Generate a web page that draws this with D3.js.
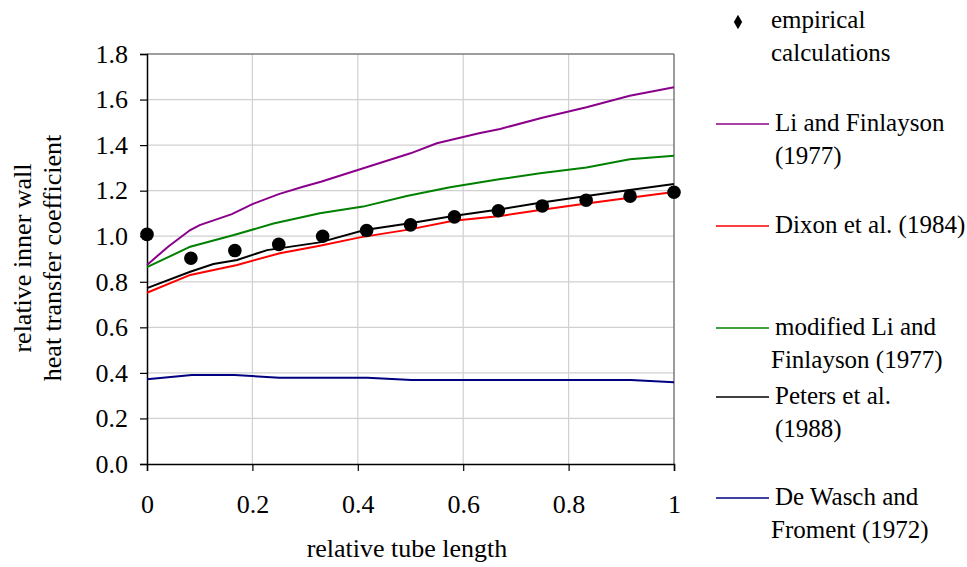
<!DOCTYPE html>
<html>
<head>
<meta charset="utf-8">
<script src="https://cdn.jsdelivr.net/npm/d3@7"></script>
<style>
  body { margin: 0; background: #fff; }
  text { font-family: "Liberation Serif", "Times New Roman", serif; fill: #000; }
</style>
</head>
<body>
<svg id="chart" width="967" height="567"></svg>
<script>
// empirical calculations (dots)
var dotX = [0, 0.0833, 0.1667, 0.25, 0.3333, 0.4167, 0.5, 0.5833, 0.6667, 0.75, 0.8333, 0.9167, 1];
var dotY = [1.008, 0.903, 0.937, 0.964, 1.0, 1.025, 1.05, 1.085, 1.112, 1.133, 1.158, 1.176, 1.193];

// model curves, each with its own vertices
var liX = [0, 0.04, 0.082, 0.10, 0.161, 0.20, 0.25, 0.296, 0.33, 0.40, 0.50, 0.55, 0.59, 0.63, 0.67, 0.75, 0.834, 0.916, 1];
var liY = [0.874, 0.954, 1.027, 1.049, 1.097, 1.141, 1.185, 1.217, 1.239, 1.291, 1.364, 1.408, 1.43, 1.452, 1.471, 1.52, 1.566, 1.617, 1.654];

var dixonX = [0, 0.082, 0.171, 0.252, 0.328, 0.404, 0.499, 0.581, 0.671, 0.746, 0.834, 0.916, 1];
var dixonY = [0.752, 0.830, 0.874, 0.925, 0.958, 0.995, 1.03, 1.068, 1.089, 1.115, 1.144, 1.169, 1.194];

var modLiX = [0, 0.082, 0.165, 0.24, 0.328, 0.41, 0.493, 0.575, 0.671, 0.746, 0.834, 0.916, 1];
var modLiY = [0.864, 0.954, 1.005, 1.056, 1.101, 1.13, 1.177, 1.215, 1.251, 1.276, 1.302, 1.338, 1.353];

var petersX = [0, 0.082, 0.126, 0.171, 0.228, 0.328, 0.413, 0.499, 0.581, 0.671, 0.746, 0.834, 0.916, 1];
var petersY = [0.772, 0.844, 0.878, 0.896, 0.939, 0.973, 1.027, 1.057, 1.089, 1.118, 1.147, 1.177, 1.203, 1.229];

var deWaschX = [0, 0.085, 0.166, 0.251, 0.418, 0.502, 0.918, 1];
var deWaschY = [0.372, 0.391, 0.391, 0.379, 0.379, 0.369, 0.369, 0.359];

var xTicks = [0, 0.2, 0.4, 0.6, 0.8, 1];
var yTicks = [0, 0.2, 0.4, 0.6, 0.8, 1.0, 1.2, 1.4, 1.6, 1.8];

var series = [
  { name: ['Li and Finlayson', '(1977)'], xs: liX, ys: liY, color: '#8b008b' },
  { name: ['Dixon et al. (1984)'], xs: dixonX, ys: dixonY, color: '#ff0000' },
  { name: ['modified Li and', 'Finlayson (1977)'], xs: modLiX, ys: modLiY, color: '#008000' },
  { name: ['Peters et al.', '(1988)'], xs: petersX, ys: petersY, color: '#000000' },
  { name: ['De Wasch and', 'Froment (1972)'], xs: deWaschX, ys: deWaschY, color: '#000080' }
];

var margin = { top: 54, left: 147 },
    width = 527,
    height = 410;

var svg = d3.select('#chart');
var g = svg.append('g').attr('transform', 'translate(' + margin.left + ',' + margin.top + ')');

var x = d3.scaleLinear().domain([0, 1]).range([0, width]);
var y = d3.scaleLinear().domain([0, 1.8]).range([height, 0]);

// gridlines
g.append('g').selectAll('line.vgrid')
  .data(xTicks.slice(1))
  .enter().append('line')
    .attr('x1', function(d) { return x(d); }).attr('x2', function(d) { return x(d); })
    .attr('y1', 0).attr('y2', height)
    .attr('stroke', '#d0d0d0').attr('stroke-width', 1.2);

g.append('g').selectAll('line.hgrid')
  .data(yTicks.slice(1))
  .enter().append('line')
    .attr('x1', 0).attr('x2', width)
    .attr('y1', function(d) { return y(d); }).attr('y2', function(d) { return y(d); })
    .attr('stroke', '#d0d0d0').attr('stroke-width', 1.2);

// plot frame (top, right)
g.append('path')
  .attr('d', 'M0,0H' + width + 'V' + height)
  .attr('fill', 'none').attr('stroke', '#555').attr('stroke-width', 1);

// axes
var xAxis = g.append('g')
  .attr('transform', 'translate(0,' + height + ')')
  .call(d3.axisBottom(x).tickValues(xTicks).tickSize(7).tickPadding(24)
    .tickFormat(function(d) { return d === 0 || d === 1 ? d3.format('d')(d) : d3.format('.1f')(d); }));
var yAxis = g.append('g')
  .call(d3.axisLeft(y).tickValues(yTicks).tickSize(7).tickPadding(12).tickFormat(d3.format('.1f')));

[xAxis, yAxis].forEach(function(a) {
  a.select('.domain').attr('stroke', '#000').attr('stroke-width', 1.5);
  a.selectAll('.tick line').attr('stroke', '#000').attr('stroke-width', 1.2);
  a.selectAll('.tick text').style('font-family', '"Liberation Serif", serif').style('font-size', '26px').attr('fill', '#000');
});

// lines
var line = d3.line()
  .x(function(d) { return x(d[0]); })
  .y(function(d) { return y(d[1]); });

series.forEach(function(s) {
  g.append('path')
    .datum(d3.zip(s.xs, s.ys))
    .attr('d', line)
    .attr('fill', 'none')
    .attr('stroke', s.color)
    .attr('stroke-width', 2);
});

// dots
g.append('g').selectAll('circle')
  .data(d3.zip(dotX, dotY))
  .enter().append('circle')
    .attr('cx', function(d) { return x(d[0]); })
    .attr('cy', function(d) { return y(d[1]); })
    .attr('r', 6.8)
    .attr('fill', '#000');

// axis titles
svg.append('text')
  .attr('x', 407).attr('y', 557)
  .attr('text-anchor', 'middle')
  .style('font-size', '26px')
  .text('relative tube length');

var yt = svg.append('text')
  .attr('transform', 'translate(31,258) rotate(-90)')
  .attr('text-anchor', 'middle')
  .style('font-size', '26px');
yt.append('tspan').attr('x', 0).attr('y', 0).text('relative inner wall');
yt.append('tspan').attr('x', 0).attr('y', 30).text('heat transfer coefficient');

// legend
var legend = svg.append('g');
legend.append('path')
  .attr('d', d3.symbol().type(d3.symbolDiamond).size(60))
  .attr('transform', 'translate(738,22)')
  .attr('fill', '#000');
legend.append('text').attr('x', 771).attr('y', 28).style('font-size', '25px').text('empirical');
legend.append('text').attr('x', 771).attr('y', 61).style('font-size', '25px').text('calculations');

var legendY = [124, 226, 328, 397, 498];
series.forEach(function(s, i) {
  var ly = legendY[i];
  legend.append('line')
    .attr('x1', 716).attr('x2', 769)
    .attr('y1', ly).attr('y2', ly)
    .attr('stroke', s.color).attr('stroke-width', 1.5);
  s.name.forEach(function(t, j) {
    legend.append('text')
      .attr('x', j === 0 ? 775 : (t.indexOf('(') === 0 ? 775 : 771))
      .attr('y', ly + 7 + j * 33)
      .style('font-size', '25px')
      .text(t);
  });
});
</script>
</body>
</html>
